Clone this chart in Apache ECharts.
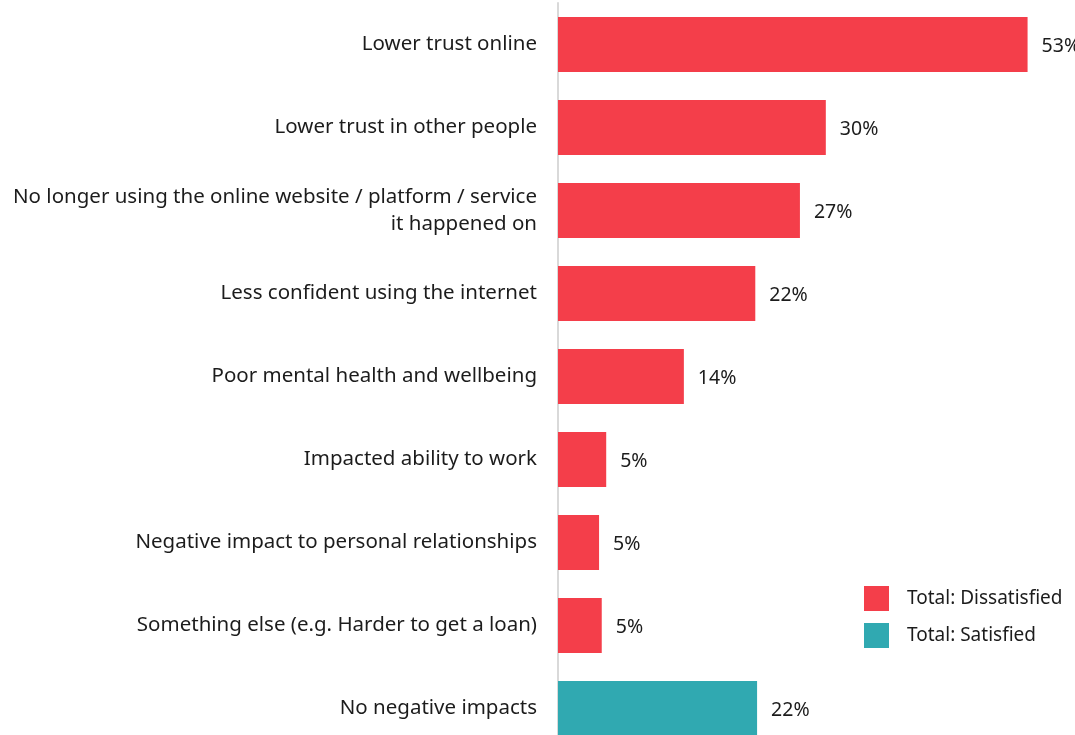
<!DOCTYPE html>
<html>
<head>
<meta charset="utf-8">
<script src="https://cdn.jsdelivr.net/npm/echarts@6/dist/echarts.min.js"></script>
<style>
  html, body { margin: 0; padding: 0; background: #ffffff; overflow: hidden; }
  /* the chart is taller than the window: the last row runs past the bottom edge */
  #wrap { width: 1075px; height: 735px; overflow: hidden; }
  #chart { width: 1075px; height: 750px; }
</style>
</head>
<body>
<div id="wrap"><div id="chart"></div></div>
<script>
// Impacts listed top to bottom
const categories = [
  'Lower trust online',
  'Lower trust in other people',
  'No longer using the online website / platform / service\nit happened on',
  'Less confident using the internet',
  'Poor mental health and wellbeing',
  'Impacted ability to work',
  'Negative impact to personal relationships',
  'Something else (e.g. Harder to get a loan)',
  'No negative impacts'
];
// Share of respondents (%), null where the group does not apply
const dissatisfied = [52.6, 30.0, 27.1, 22.1, 14.1, 5.4, 4.6, 4.9, null];
const satisfied = [null, null, null, null, null, null, null, null, 22.3];
const seriesNames = ['Total: Dissatisfied', 'Total: Satisfied'];

const RED = '#F43E4A';
const TEAL = '#30A9B1';
const FONT = '"Noto Sans", sans-serif';
const TEXT = '#1c1c1c';

const valueLabel = {
  show: true,
  position: 'right',
  distance: 14,
  offset: [0, 2],
  color: TEXT,
  fontFamily: FONT,
  fontSize: 19.5,
  formatter: p => Math.round(p.value) + '%'
};

const chart = echarts.init(document.getElementById('chart'), null, { renderer: 'canvas' });
chart.setOption({
  animation: false,
  backgroundColor: '#ffffff',
  grid: { left: 558, right: 26, top: 3, bottom: 0, containLabel: false },
  xAxis: {
    type: 'value',
    min: 0,
    max: 55,
    show: false
  },
  yAxis: {
    type: 'category',
    data: categories,
    inverse: true,
    axisTick: { show: false },
    axisLine: { show: true, lineStyle: { color: '#d9d9d9', width: 2 } },
    axisLabel: {
      margin: 21,
      color: TEXT,
      fontFamily: FONT,
      fontSize: 20.5,
      lineHeight: 27,
      align: 'right',
      padding: [4, 0, 0, 0]
    }
  },
  legend: {
    orient: 'vertical',
    left: 864,
    top: 586,
    padding: 0,
    icon: 'rect',
    itemWidth: 25,
    itemHeight: 25,
    itemGap: 12,
    data: seriesNames,
    textStyle: {
      color: TEXT,
      fontFamily: FONT,
      fontSize: 19,
      padding: [4, 0, 0, 13]
    }
  },
  series: [
    {
      name: seriesNames[0],
      type: 'bar',
      data: dissatisfied,
      barWidth: '66%',
      barGap: '-100%',
      itemStyle: { color: RED },
      label: valueLabel
    },
    {
      name: seriesNames[1],
      type: 'bar',
      data: satisfied,
      barWidth: '66%',
      barGap: '-100%',
      itemStyle: { color: TEAL },
      label: valueLabel
    }
  ]
});
</script>
</body>
</html>
